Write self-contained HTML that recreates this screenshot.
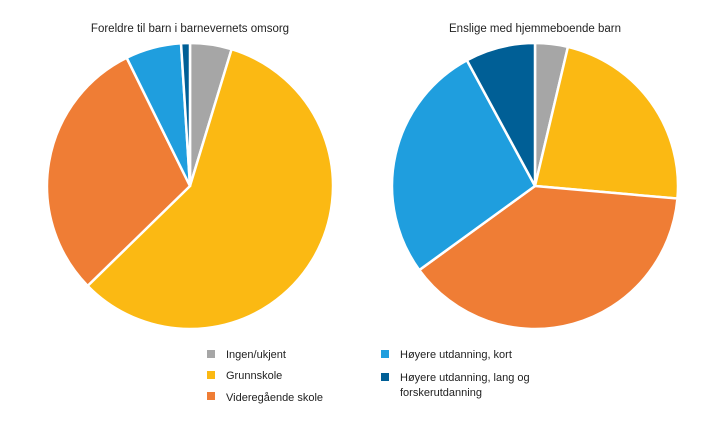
<!DOCTYPE html>
<html><head><meta charset="utf-8"><style>
body{margin:0;background:#fff;}
svg{display:block;font-family:"Liberation Sans",sans-serif;}
</style></head><body>
<svg id="chart" width="719" height="425">
<text x="190" y="32" text-anchor="middle" font-size="11.5" fill="#222">Foreldre til barn i barnevernets omsorg</text>
<text x="535" y="32" text-anchor="middle" font-size="11.5" fill="#222">Enslige med hjemmeboende barn</text>
<g id="left"></g>
<g id="right"></g>
<g font-size="11" fill="#222">
<rect x="207" y="350" width="8" height="8" fill="#a6a6a6"/>
<text x="226" y="358">Ingen/ukjent</text>
<rect x="207" y="371" width="8" height="8" fill="#fbb913"/>
<text x="226" y="379">Grunnskole</text>
<rect x="207" y="392" width="8" height="8" fill="#ef7d35"/>
<text x="226" y="401">Videregående skole</text>
<rect x="381" y="350" width="8" height="8" fill="#1f9ede"/>
<text x="400" y="358">Høyere utdanning, kort</text>
<rect x="381" y="373" width="8" height="8" fill="#005f96"/>
<text x="400" y="381">Høyere utdanning, lang og</text>
<text x="400" y="396">forskerutdanning</text>
</g>
</svg>
<script>
const categories=["Ingen/ukjent","Grunnskole","Videregående skole","Høyere utdanning, kort","Høyere utdanning, lang og forskerutdanning"];
const leftValues=[4.7,58,30,6.3,1];
const rightValues=[3.7,22.7,38.6,27.1,7.9];
const colors=["#a6a6a6","#fbb913","#ef7d35","#1f9ede","#005f96"];
function drawPie(id,vals,cx,cy,r){
  const g=document.getElementById(id);
  const tot=vals.reduce((a,b)=>a+b,0);
  let a0=0;
  vals.forEach((v,i)=>{
    const a1=a0+v/tot*2*Math.PI;
    const x0=cx+r*Math.sin(a0),y0=cy-r*Math.cos(a0),x1=cx+r*Math.sin(a1),y1=cy-r*Math.cos(a1);
    const p=document.createElementNS("http://www.w3.org/2000/svg","path");
    p.setAttribute("d",`M${cx},${cy}L${x0},${y0}A${r},${r} 0 ${a1-a0>Math.PI?1:0} 1 ${x1},${y1}Z`);
    p.setAttribute("fill",colors[i]);p.setAttribute("stroke","#fff");p.setAttribute("stroke-width","2.5");
    
    
    g.appendChild(p);a0=a1;
  });
}
drawPie("left",leftValues,190,186,143);
drawPie("right",rightValues,535,186,143);
</script>
</body></html>
